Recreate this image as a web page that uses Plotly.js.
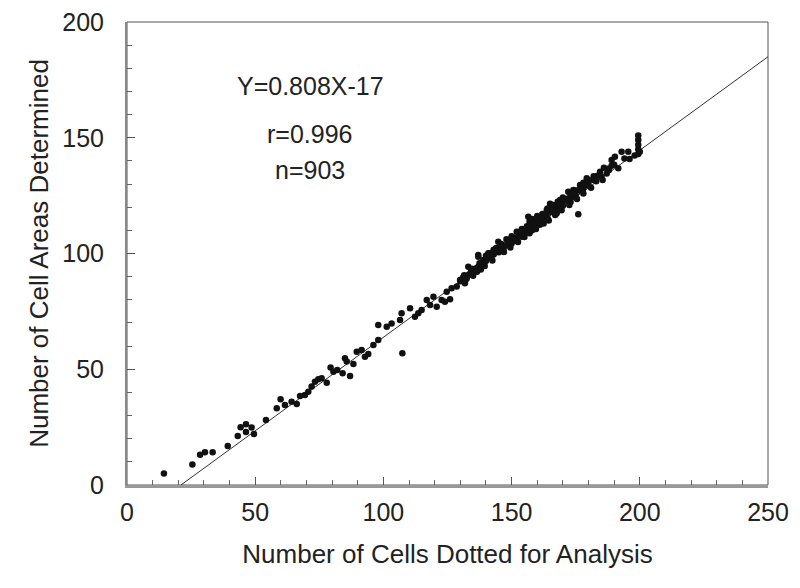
<!DOCTYPE html>
<html>
<head>
<meta charset="utf-8">
<script src="https://cdn.plot.ly/plotly-3.0.1.min.js"></script>
<style>html,body{margin:0;padding:0;background:#fff;}#chart{width:800px;height:588px;}</style>
</head>
<body>
<div id="chart"></div>
<script>
// Scatter points: cells dotted (x) vs. cell areas determined (y)
const cellsDotted = [
  14.4,25.5,28.5,30.4,33.4,39.3,43.2,44.3,46.4,46.4,48.6,49.5,54.2,58.4,59.9,61.6,64.2,66.2,67.5,69.4,
  70.7,72.0,73.3,74.6,75.9,77.9,79.4,80.5,82.0,84.1,87.0,85.0,85.7,88.3,89.6,91.5,92.8,94.1,96.1,98.0,
  98.0,101.3,103.2,106.5,107.1,107.4,110.4,112.3,113.6,114.9,116.9,118.2,119.5,120.8,122.7,124.0,126.0,124.7,126.6,128.6,
  129.9,131.8,133.1,133.1,135.1,137.0,137.0,137.0,139.0,139.0,140.9,141.6,144.8,146.8,149.4,152.0,156.5,157.8,161.1,163.7,
  166.3,166.3,167.6,168.9,172.1,174.1,176.0,176.7,179.3,181.9,184.5,187.1,189.0,190.3,191.6,192.9,195.5,199.4,199.4,199.4,
  199.4,199.4,200.0,
  130,131,132,134,135,136,138,138,140,140,142,143,143,144,145,146,147,148,148,150,
  150,151,152,153,154,154,155,156,157,158,158,159,160,160,161,162,162,163,164,164,
  165,165,166,167,168,168,169,170,170,171,172,173,173,174,175,175,177,178,178,180,
  180,182,183,185,186,188,190,194,196,198,
  131.5,132.5,134.5,136.5,137.5,139.5,141,142.5,144,145.5,147,148.5,149.5,151,152.5,153.5,155,156,157,158.5,
  159.5,161,162.5,163.5,164.5,166,167,168.5,169.5,171,172.5,174,175.5,176.5,178,179,181,183.5,185.5,187.5,189
];
const areasDetermined = [
  5.0,8.9,13.1,14.1,14.1,16.8,21.2,24.9,26.2,22.9,24.8,22.0,28.1,33.1,37.0,34.6,36.0,35.0,38.4,38.9,
  40.3,42.5,44.6,45.7,46.1,44.2,50.8,48.9,49.7,48.3,47.1,54.7,53.3,52.3,57.6,58.3,55.4,56.6,60.5,69.1,
  62.6,68.4,69.8,71.3,74.2,56.9,76.3,72.7,74.2,75.6,79.9,77.8,81.3,77.0,79.9,79.2,80.2,83.5,85.0,85.7,
  88.6,87.1,90.7,94.3,92.9,94.3,99.4,98.6,97.2,96.5,100.1,100.1,105.1,101.5,105.8,109.4,115.9,111.6,115.2,118.8,
  121.0,120.2,117.4,123.1,126.7,127.4,117.0,129.6,132.5,131.8,135.3,134.6,140.4,141.8,136.8,144.0,144.0,143.0,145.0,147.0,
  149.0,151.0,144.0,
  88.0,89.5,88.6,91.8,90.4,93.5,95.2,93.1,96.8,99.0,98.2,101.6,99.6,102.4,100.5,104.1,102.9,106.2,103.6,104.3,
  107.4,105.6,106.9,108.8,107.2,110.6,109.1,111.8,113.8,110.0,114.9,112.7,113.9,116.2,112.4,117.1,114.6,116.0,115.3,119.4,
  117.8,121.5,118.5,120.9,119.3,122.4,121.2,124.2,120.6,122.9,123.8,125.6,122.3,124.5,127.2,125.1,127.0,130.6,128.1,129.8,
  131.7,133.4,131.2,133.2,137.0,136.1,138.3,141.0,140.8,142.3,
  90.6,89.2,93.4,92.1,95.8,94.6,98.5,97.0,100.9,102.8,100.7,104.9,102.6,106.8,105.0,109.5,107.1,110.7,108.8,112.9,
  110.6,114.8,113.0,117.2,114.3,119.0,116.6,121.0,118.7,123.4,121.0,125.8,123.5,127.9,125.9,129.5,128.4,133.6,131.8,136.6,137.9
];
// Regression line Y = 0.808X - 17, endpoints on the axes
const fitX = [21.04, 250];
const fitY = [0, 185];
const xTicks = [0, 50, 100, 150, 200, 250];
const yTicks = [0, 50, 100, 150, 200];
const statLines = ["Y=0.808X-17", "r=0.996", "n=903"];
const statY = [172.4, 151.6, 136.1];

const font = "Liberation Sans, Arial, sans-serif";
const traces = [
  {x: fitX, y: fitY, mode: "lines", line: {color: "#333", width: 1}, hoverinfo: "skip"},
  {x: cellsDotted, y: areasDetermined, mode: "markers", marker: {color: "#111", size: 6.5}}
];
const axisCommon = {
  ticks: "inside", ticklen: 8, tickwidth: 1, tickcolor: "#555",
  showgrid: false, zeroline: false, showline: true,
  tickfont: {family: font, size: 25, color: "#222"},
  minor: {dtick: 10, ticks: "inside", ticklen: 5, tickcolor: "#666", showgrid: false}
};
const layout = {
  width: 800, height: 588,
  margin: {l: 127, r: 32, t: 22, b: 103},
  paper_bgcolor: "#fff", plot_bgcolor: "#fff",
  showlegend: false,
  font: {family: font, color: "#222"},
  xaxis: Object.assign({}, axisCommon, {
    range: [0, 250], tickvals: xTicks, ticklabelstandoff: 3,
    linecolor: "#999", linewidth: 3,
    title: {text: "Number of Cells Dotted for Analysis", font: {family: font, size: 26, color: "#222"}, standoff: 20}
  }),
  yaxis: Object.assign({}, axisCommon, {
    range: [0, 200], tickvals: yTicks, ticklabelstandoff: 16,
    linecolor: "#888", linewidth: 2,
    title: {text: "Number of Cell Areas Determined", font: {family: font, size: 26, color: "#222"}, standoff: 6}
  }),
  shapes: [{type: "rect", xref: "paper", yref: "paper", x0: 0, x1: 1, y0: 0, y1: 1,
            line: {color: "#555", width: 1}, layer: "below"}],
  annotations: statLines.map((t, i) => ({
    x: 71.4, y: statY[i], xref: "x", yref: "y", text: t, showarrow: false,
    font: {family: font, size: 25, color: "#222"}
  }))
};
Plotly.newPlot("chart", traces, layout, {displayModeBar: false, staticPlot: true});
</script>
</body>
</html>
